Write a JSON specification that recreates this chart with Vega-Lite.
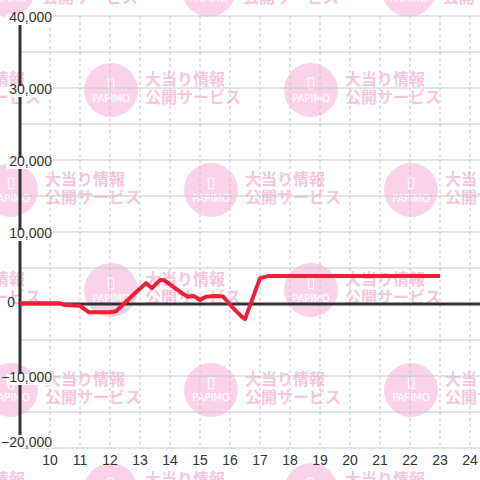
{
  "$schema": "https://vega.github.io/schema/vega-lite/v6.json",
  "width": 460,
  "height": 432,
  "padding": {"left": 20, "top": 16, "right": 0, "bottom": 32},
  "autosize": {"type": "none"},
  "background": "#ffffff",
  "config": {"view": {"stroke": null}, "font": "Liberation Sans", "axis": {"disable": true}},
  "datasets": {
    "line": [
      {"h": 9.0, "v": 100}, {"h": 10.33, "v": 100}, {"h": 10.5, "v": -150}, {"h": 11.0, "v": -250},
      {"h": 11.3, "v": -1150}, {"h": 12.0, "v": -1150}, {"h": 12.2, "v": -1000}, {"h": 12.4, "v": -200},
      {"h": 12.83, "v": 1500}, {"h": 13.2, "v": 2900}, {"h": 13.4, "v": 2200}, {"h": 13.67, "v": 3350},
      {"h": 13.8, "v": 3300}, {"h": 14.4, "v": 1500}, {"h": 14.6, "v": 1000}, {"h": 14.8, "v": 1100},
      {"h": 15.0, "v": 550}, {"h": 15.2, "v": 1000}, {"h": 15.5, "v": 1100}, {"h": 15.77, "v": 1050},
      {"h": 16.1, "v": -550}, {"h": 16.4, "v": -1800}, {"h": 16.5, "v": -2100}, {"h": 16.83, "v": 1650},
      {"h": 17.0, "v": 3600}, {"h": 17.3, "v": 3900}, {"h": 23.0, "v": 3900}
    ],
    "wm": [
      {"h": 8.6, "v": 43611}, {"h": 15.3, "v": 43611}, {"h": 21.96, "v": 43611},
      {"h": 5.367, "v": 29722}, {"h": 12.033, "v": 29722}, {"h": 18.7, "v": 29722},
      {"h": 8.7, "v": 15833}, {"h": 15.367, "v": 15833}, {"h": 22.033, "v": 15833},
      {"h": 5.367, "v": 1944}, {"h": 12.033, "v": 1944}, {"h": 18.7, "v": 1944},
      {"h": 8.7, "v": -11944}, {"h": 15.367, "v": -11944}, {"h": 22.033, "v": -11944},
      {"h": 5.367, "v": -25833}, {"h": 12.033, "v": -25833}, {"h": 18.7, "v": -25833}
    ],
    "hgrid": [
      {"v": -20000}, {"v": -15000}, {"v": -10000}, {"v": -5000}, {"v": 5000}, {"v": 10000}, {"v": 15000},
      {"v": 20000}, {"v": 25000}, {"v": 30000}, {"v": 35000}, {"v": 40000}
    ],
    "vgrid": [
      {"h": 10}, {"h": 11}, {"h": 12}, {"h": 13}, {"h": 14}, {"h": 15}, {"h": 16}, {"h": 17},
      {"h": 18}, {"h": 19}, {"h": 20}, {"h": 21}, {"h": 22}, {"h": 23}, {"h": 24}
    ],
    "ylab": [
      {"v": 40000}, {"v": 30000}, {"v": 20000}, {"v": 10000}, {"v": -10000}
    ]
  },
  "layer": [
    {
      "data": {"name": "wm"},
      "mark": {"type": "point", "shape": "circle", "filled": true, "size": 2916, "color": "#fbd3e8", "opacity": 1, "clip": false},
      "encoding": {
        "x": {"field": "h", "type": "quantitative", "scale": {"domain": [9, 24.3333], "nice": false, "zero": false}, "axis": null},
        "y": {"field": "v", "type": "quantitative", "scale": {"domain": [-20000, 40000], "nice": false, "zero": false}, "axis": null}
      }
    },
    {
      "data": {"name": "wm"},
      "mark": {"type": "point", "shape": "M-0.1,-0.44 L0.1,-0.44 L0.1,-0.05 L-0.1,-0.05 Z", "filled": false, "size": 2916, "stroke": "#ffffff", "strokeWidth": 1, "opacity": 1, "clip": false},
      "encoding": {
        "x": {"field": "h", "type": "quantitative", "axis": null},
        "y": {"field": "v", "type": "quantitative", "axis": null}
      }
    },
    {
      "data": {"name": "wm"},
      "mark": {"type": "text", "text": "PAPIMO", "color": "#ffffff", "fontSize": 10, "font": "DejaVu Sans", "align": "center", "baseline": "middle", "dy": 8.5, "clip": false},
      "encoding": {
        "x": {"field": "h", "type": "quantitative", "axis": null},
        "y": {"field": "v", "type": "quantitative", "axis": null}
      }
    },
    {
      "data": {"name": "wm"},
      "mark": {"type": "text", "text": "大当り情報", "color": "#f6c6dd", "fontSize": 16, "fontWeight": "bold", "font": "Noto Sans CJK JP", "align": "left", "baseline": "middle", "dx": 34, "dy": -10, "clip": false},
      "encoding": {
        "x": {"field": "h", "type": "quantitative", "axis": null},
        "y": {"field": "v", "type": "quantitative", "axis": null}
      }
    },
    {
      "data": {"name": "wm"},
      "mark": {"type": "text", "text": "公開サービス", "color": "#f6c6dd", "fontSize": 16, "fontWeight": "bold", "font": "Noto Sans CJK JP", "align": "left", "baseline": "middle", "dx": 34, "dy": 8, "clip": false},
      "encoding": {
        "x": {"field": "h", "type": "quantitative", "axis": null},
        "y": {"field": "v", "type": "quantitative", "axis": null}
      }
    },
    {
      "data": {"name": "hgrid"},
      "mark": {"type": "rule", "color": "#c8c8c8", "strokeWidth": 1},
      "encoding": {
        "y": {"field": "v", "type": "quantitative", "axis": null}
      }
    },
    {
      "data": {"name": "vgrid"},
      "mark": {"type": "rule", "color": "#c4c4c4", "strokeWidth": 1, "strokeDash": [3, 3]},
      "encoding": {
        "x": {"field": "h", "type": "quantitative", "axis": null}
      }
    },
    {
      "data": {"values": [{"v": 0}]},
      "mark": {"type": "rule", "color": "#333333", "strokeWidth": 3},
      "encoding": {
        "y": {"field": "v", "type": "quantitative", "axis": null}
      }
    },
    {
      "data": {"values": [{"h": 9}]},
      "mark": {"type": "rule", "color": "#333333", "strokeWidth": 3},
      "encoding": {
        "x": {"field": "h", "type": "quantitative", "axis": null}
      }
    },
    {
      "data": {"name": "line"},
      "mark": {"type": "line", "color": "#ee1f37", "strokeWidth": 4, "strokeJoin": "round", "strokeCap": "butt"},
      "encoding": {
        "x": {"field": "h", "type": "quantitative", "axis": null},
        "y": {"field": "v", "type": "quantitative", "axis": null}
      }
    },
    {
      "data": {"name": "vgrid"},
      "mark": {"type": "text", "color": "#333333", "fontSize": 14, "font": "Liberation Sans", "align": "center", "baseline": "middle", "dy": 13, "clip": false},
      "encoding": {
        "x": {"field": "h", "type": "quantitative", "axis": null},
        "y": {"datum": -20000, "type": "quantitative", "axis": null},
        "text": {"field": "h", "type": "quantitative", "format": "d"}
      }
    },
    {
      "data": {"name": "ylab"},
      "transform": [{"calculate": "datum.v - 1250", "as": "lo"}, {"calculate": "datum.v + 280", "as": "hi"}],
      "mark": {"type": "rect", "color": "#ffffff", "clip": false},
      "encoding": {
        "x": {"datum": 8.55, "type": "quantitative", "axis": null},
        "x2": {"datum": 10.1},
        "y": {"field": "lo", "type": "quantitative", "axis": null},
        "y2": {"field": "hi"}
      }
    },
    {
      "data": {"values": [{"v": -20000}]},
      "transform": [{"calculate": "datum.v + 1800", "as": "hi"}],
      "mark": {"type": "rect", "color": "#ffffff", "clip": false},
      "encoding": {
        "x": {"datum": 8.55, "type": "quantitative", "axis": null},
        "x2": {"datum": 10.1},
        "y": {"field": "v", "type": "quantitative", "axis": null},
        "y2": {"field": "hi"}
      }
    },
    {
      "data": {"name": "ylab"},
      "mark": {"type": "text", "color": "#333333", "fontSize": 14, "font": "Liberation Sans", "align": "right", "baseline": "middle", "dx": 32, "dy": 1.5, "clip": false},
      "encoding": {
        "x": {"datum": 9, "type": "quantitative", "axis": null},
        "y": {"field": "v", "type": "quantitative", "axis": null},
        "text": {"field": "v", "type": "quantitative", "format": ","}
      }
    },
    {
      "data": {"values": [{"v": -20000}]},
      "mark": {"type": "text", "color": "#333333", "fontSize": 14, "font": "Liberation Sans", "align": "right", "baseline": "middle", "dx": 32, "dy": -5.5, "clip": false},
      "encoding": {
        "x": {"datum": 9, "type": "quantitative", "axis": null},
        "y": {"field": "v", "type": "quantitative", "axis": null},
        "text": {"field": "v", "type": "quantitative", "format": ","}
      }
    },
    {
      "data": {"values": [{"v": 0}]},
      "mark": {"type": "text", "color": "#333333", "fontSize": 14, "font": "Liberation Sans", "align": "right", "baseline": "middle", "dx": -5, "dy": -1, "clip": false},
      "encoding": {
        "x": {"datum": 9, "type": "quantitative", "axis": null},
        "y": {"field": "v", "type": "quantitative", "axis": null},
        "text": {"field": "v", "type": "quantitative", "format": ","}
      }
    }
  ]
}
